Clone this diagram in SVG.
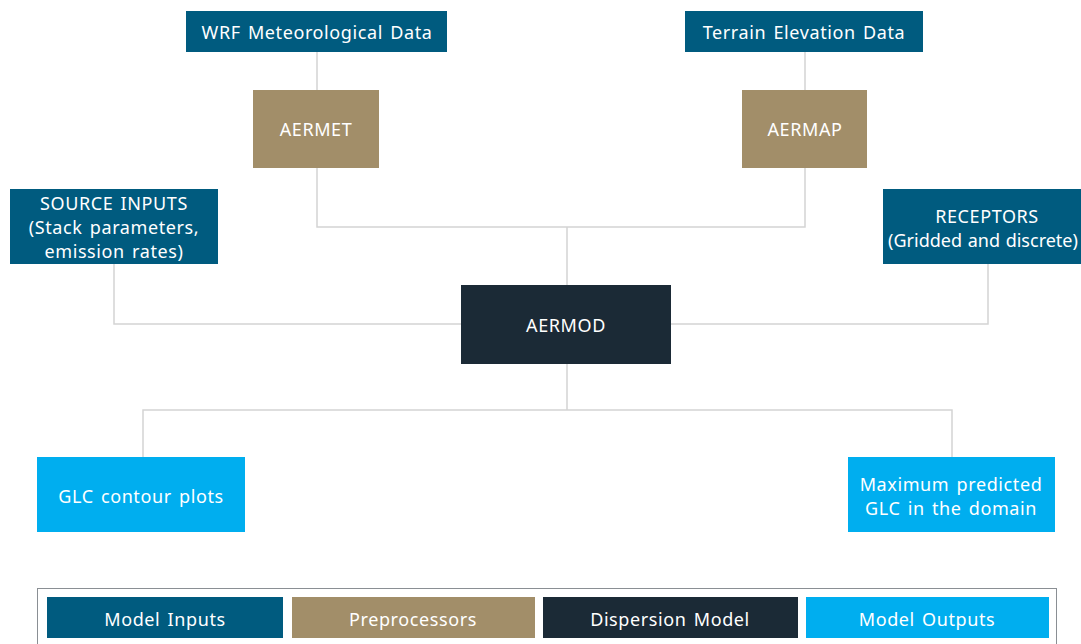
<svg xmlns="http://www.w3.org/2000/svg" width="1081" height="644" viewBox="0 0 1081 644">
<style>
text{font-family:"Noto Sans","Open Sans","Liberation Sans",sans-serif;font-size:18px;fill:#ffffff;text-anchor:middle;letter-spacing:0.6px;word-spacing:2px}
text.tight{letter-spacing:0;word-spacing:1px}
.in{fill:#005b7f}
.pre{fill:#a28e69}
.disp{fill:#1b2a36}
.out{fill:#00aeef}
.conn{fill:none;stroke:#d4d4d4;stroke-width:1.5}
</style>
<rect width="1081" height="644" fill="#ffffff"/>
<g id="connectors" class="conn">
<path d="M317 52V90M317 168V227H805V168M805 52V90M567 227V285"/>
<path d="M114 264V324H461M988 264V324H671"/>
<path d="M567 364V410M143 457V410H952V457"/>
</g>
<g id="wrf"><rect class="in" x="186" y="11" width="261" height="41"/><text x="317" y="39">WRF Meteorological Data</text></g>
<g id="terrain"><rect class="in" x="685" y="11" width="238" height="41"/><text x="804" y="39">Terrain Elevation Data</text></g>
<g id="aermet"><rect class="pre" x="253" y="90" width="126" height="78"/><text x="316" y="136">AERMET</text></g>
<g id="aermap"><rect class="pre" x="742" y="90" width="125" height="78"/><text x="805" y="136">AERMAP</text></g>
<g id="source"><rect class="in" x="10" y="189" width="208" height="75"/><text x="114" y="210">SOURCE INPUTS</text><text x="114" y="234">(Stack parameters,</text><text x="114" y="258">emission rates)</text></g>
<g id="receptors"><rect class="in" x="883" y="189" width="198" height="75"/><text x="987" y="223">RECEPTORS</text><text class="tight" x="983" y="247">(Gridded and discrete)</text></g>
<g id="aermod"><rect class="disp" x="461" y="285" width="210" height="79"/><text x="566" y="332">AERMOD</text></g>
<g id="glc"><rect class="out" x="37" y="457" width="208" height="75"/><text x="141" y="503">GLC contour plots</text></g>
<g id="max"><rect class="out" x="848" y="457" width="207" height="75"/><text x="951" y="491">Maximum predicted</text><text x="951" y="515">GLC in the domain</text></g>
<g id="legend">
<rect x="37.5" y="588.5" width="1019" height="60" fill="none" stroke="#8a8f94" stroke-width="1"/>
<rect class="in" x="47" y="597" width="236" height="41"/><text x="165" y="626">Model Inputs</text>
<rect class="pre" x="292" y="597" width="243" height="41"/><text x="413" y="626">Preprocessors</text>
<rect class="disp" x="543" y="597" width="255" height="41"/><text x="670" y="626">Dispersion Model</text>
<rect class="out" x="806" y="597" width="243" height="41"/><text x="927" y="626">Model Outputs</text>
</g>
</svg>
